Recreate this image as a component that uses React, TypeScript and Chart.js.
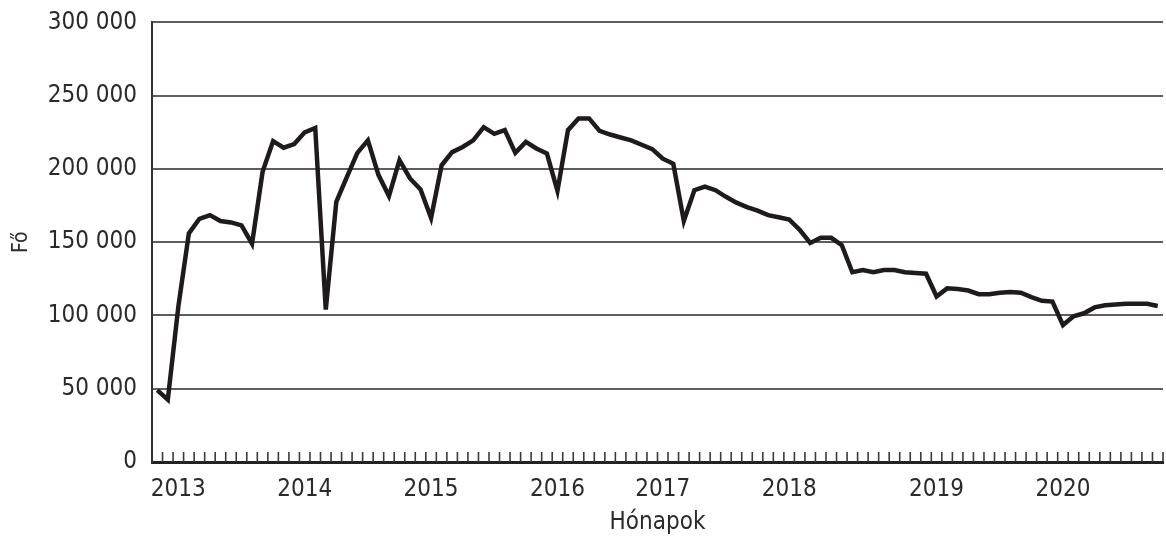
import React, { useEffect, useRef } from "react";
import { Chart, registerables } from "chart.js";

Chart.register(...registerables);

const months: string[] = [];
for (let y = 2013; y <= 2020; y++) {
  for (let m = 1; m <= 12; m++) months.push(`${y}-${String(m).padStart(2, "0")}`);
}

const values: number[] = [
  49000, 42500, 106000, 156000, 166000, 168500, 164500, 163500, 161500, 149000, 198000, 219000,
  214500, 217000, 225000, 228000, 104000, 177500, 194500, 211000, 219500, 196000, 181500, 206000,
  193500, 186000, 166500, 202500, 211500, 215000, 219500, 228500, 224000, 226500, 211000, 218500,
  214000, 210500, 185000, 226500, 234500, 234500, 226000, 223500, 221500, 219500, 216500, 213500,
  207000, 203500, 164500, 185500, 188000, 185500, 181000, 177000, 174000, 171500, 168500, 167000,
  165500, 158500, 149500, 153000, 153000, 148000, 129500, 131000, 129500, 131000, 131000, 129500,
  129000, 128500, 113000, 118500, 118000, 117000, 114500, 114500, 115500, 116000, 115500, 112500,
  110000, 109500, 93500, 99500, 101500, 105500, 107000, 107500, 108000, 108000, 108000, 106500,
];

const yearLabels: string[] = ["2013", "2014", "2015", "2016", "2017", "2018", "2019", "2020"];
const yearLabelIndex: number[] = [2, 14, 26, 38, 48, 60, 74, 86];

const yTicks: number[] = [0, 50000, 100000, 150000, 200000, 250000, 300000];

const FONT = "'Liberation Sans Narrow', 'DejaVu Sans Condensed', 'Roboto Condensed', sans-serif";

const monthTicks = {
  id: "monthTicks",
  afterDatasetsDraw(chart: any) {
    const x = chart.scales.x;
    const area = chart.chartArea;
    const ctx = chart.ctx;
    const n = chart.data.labels.length;
    const half = (x.getPixelForValue(1) - x.getPixelForValue(0)) / 2;
    ctx.save();
    ctx.strokeStyle = "#3a3a3a";
    ctx.lineWidth = 1.6;
    ctx.beginPath();
    for (let i = 0; i < n; i++) {
      const px = x.getPixelForValue(i) + half;
      ctx.moveTo(px, area.bottom);
      ctx.lineTo(px, area.bottom - 10);
    }
    ctx.stroke();
    ctx.restore();
  },
};

export default function App() {
  const ref = useRef<HTMLCanvasElement | null>(null);
  useEffect(() => {
    if (!ref.current) return;
    const chart = new Chart(ref.current, {
      type: "line",
      data: {
        labels: months,
        datasets: [
          {
            data: values,
            borderColor: "#1f1b1c",
            borderWidth: 4.5,
            pointRadius: 0,
            tension: 0,
            fill: false,
          },
        ],
      },
      plugins: [monthTicks],
      options: {
        animation: false,
        responsive: true,
        maintainAspectRatio: false,
        layout: { padding: { top: 0, right: 3, left: 0, bottom: 0 } },
        plugins: { legend: { display: false }, tooltip: { enabled: false } },
        scales: {
          x: {
            type: "category",
            offset: true,
            grid: { display: false, offset: true },
            border: { display: true, color: "#222", width: 3 },
            ticks: {
              autoSkip: false,
              maxRotation: 0,
              minRotation: 0,
              padding: 5,
              color: "#2a2a2a",
              font: { family: FONT, size: 24 },
              callback: (_v: any, index: number) => {
                const k = yearLabelIndex.indexOf(index);
                return k >= 0 ? yearLabels[k] : "";
              },
            },
            title: {
              display: true,
              text: "Hónapok",
              color: "#2a2a2a",
              font: { family: FONT, size: 24 },
              padding: { top: 0, bottom: 2 },
            },
            afterFit: (s: any) => {
              s.height = 77;
            },
          },
          y: {
            min: 0,
            max: 300000,
            afterBuildTicks: (s: any) => {
              s.ticks = yTicks.map((v) => ({ value: v }));
            },
            grid: { color: "#5e5e5e", lineWidth: 2, drawTicks: false },
            border: { display: true, color: "#333", width: 2 },
            ticks: {
              padding: 15,
              color: "#2a2a2a",
              font: { family: FONT, size: 24, lineHeight: 0.62 },
              callback: (v: any) => String(v).replace(/\B(?=(\d{3})+(?!\d))/g, " "),
            },
            title: {
              display: true,
              text: "Fő",
              color: "#2a2a2a",
              font: { family: FONT, size: 21 },
              padding: { top: 9, bottom: 0 },
            },
            afterFit: (s: any) => {
              s.width = 152;
            },
          },
        },
      },
    });
    return () => chart.destroy();
  }, []);
  return (
    <div style={{ position: "fixed", left: 0, top: 0, width: 1166, height: 539, background: "#fff" }}>
      <canvas ref={ref} />
    </div>
  );
}
